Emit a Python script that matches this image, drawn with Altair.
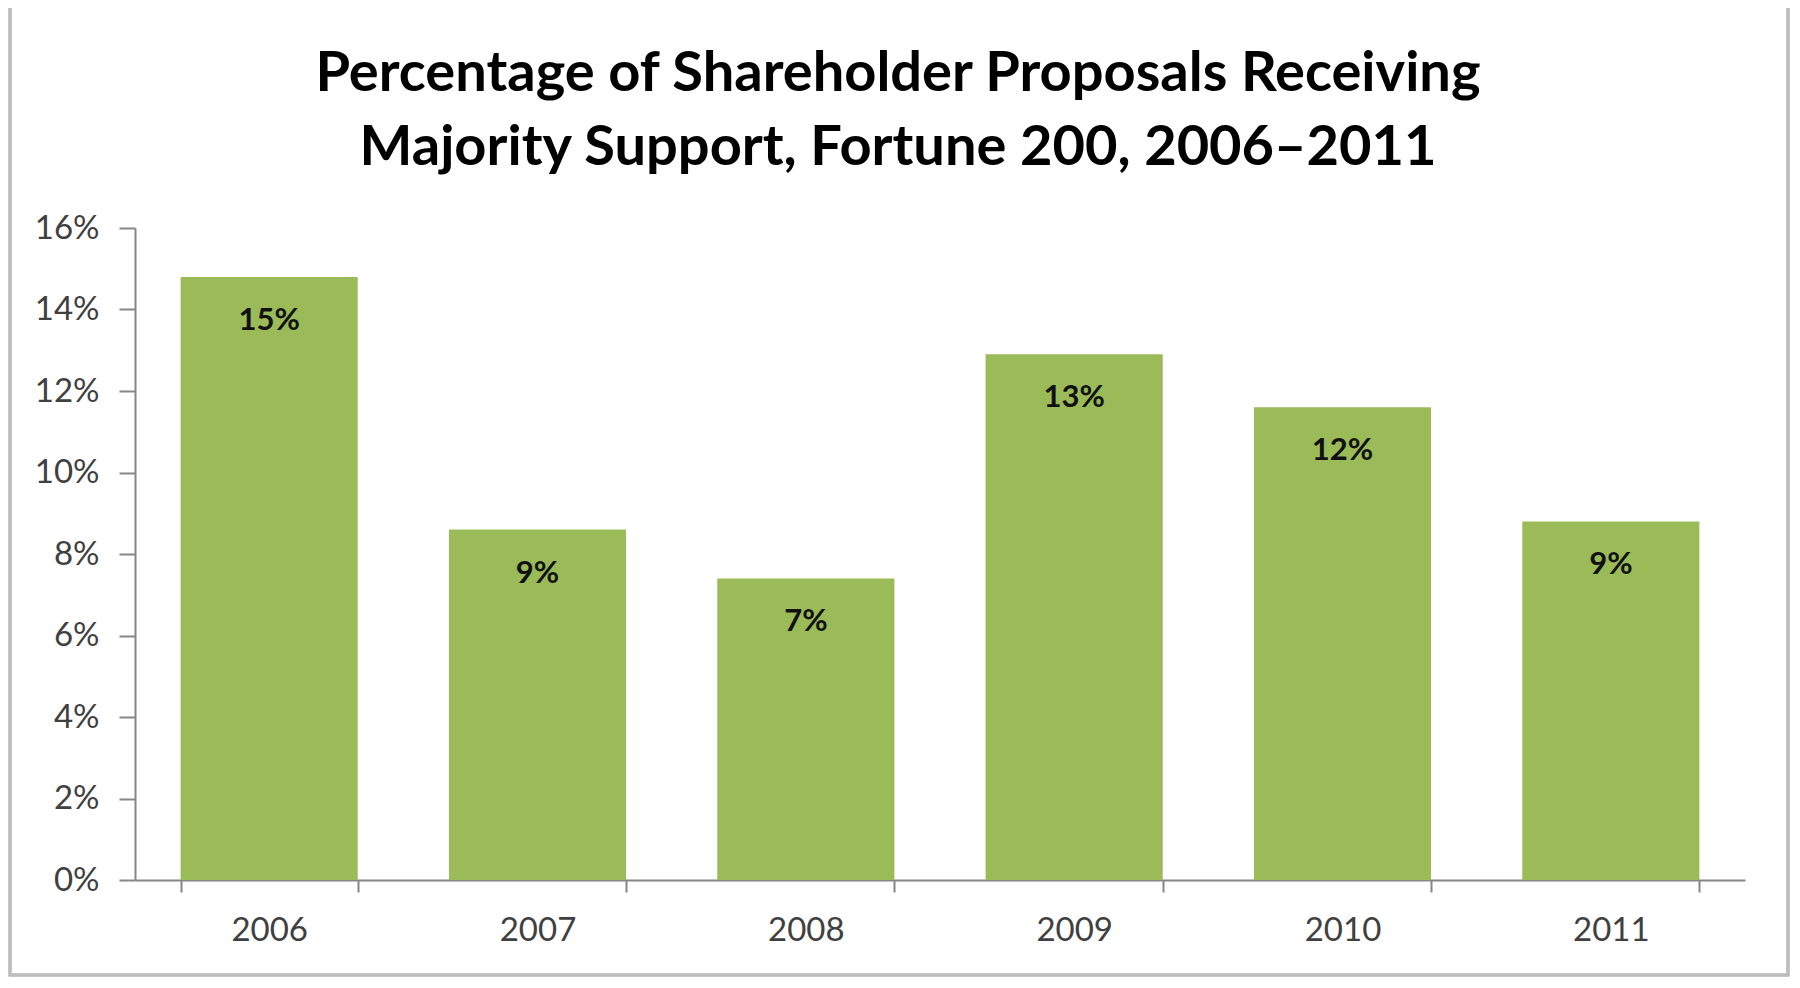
import altair as alt
import pandas as pd

years = ["2006", "2007", "2008", "2009", "2010", "2011"]
share = [0.148, 0.086, 0.074, 0.129, 0.116, 0.088]

df = pd.DataFrame({"year": years, "share": share})

PLOT_W = 1610
PLOT_H = 652
FONT = "Lato"

x_enc = alt.X(
    "year:N",
    title=None,
    sort=years,
    scale=alt.Scale(paddingInner=0.34, paddingOuter=0.17),
    axis=alt.Axis(
        labelAngle=0,
        tickBand="extent",
        tickSize=12,
        labelPadding=22,
    ),
)
y_enc = alt.Y(
    "share:Q",
    title=None,
    scale=alt.Scale(domain=[0, 0.16], nice=False),
    axis=alt.Axis(
        format=".0%",
        values=[0, 0.02, 0.04, 0.06, 0.08, 0.10, 0.12, 0.14, 0.16],
        tickSize=16,
        labelPadding=20,
        grid=False,
    ),
)

bars = alt.Chart(df).mark_bar(color="#9BBB59").encode(x=x_enc, y=y_enc)

labels = (
    alt.Chart(df)
    .mark_text(font=FONT, fontSize=31, fontWeight="bold", color="#111111", baseline="middle", dy=44)
    .encode(x=x_enc, y=y_enc, text=alt.Text("share:Q", format=".0%"))
)

# thin grey frame round the whole chart, like the Excel chart area
frame = alt.Chart(df).mark_rect(fill=None, stroke="#BDBDBD", strokeWidth=2.5, clip=False).encode(
    x=alt.value(-125), x2=alt.value(1653), y=alt.value(-225), y2=alt.value(747)
)

chart = (
    alt.layer(frame, bars, labels)
    .properties(
        width=PLOT_W,
        height=PLOT_H,
        background="white",
        padding={"left": 127, "top": 220, "right": 45, "bottom": 100},
        autosize=alt.AutoSizeParams(type="none"),
        title=alt.TitleParams(
            ["Percentage of Shareholder Proposals Receiving", "Majority Support, Fortune 200, 2006\u20132011"],
            font=FONT,
            fontSize=56,
            fontWeight="bold",
            color="#000000",
            anchor="middle",
            frame="group",
            dx=-42,
            offset=-175,
            lineHeight=74,
        ),
    )
    .configure_view(stroke=None)
    .configure_axis(
        labelFont=FONT,
        labelFontSize=33,
        labelColor="#404040",
        domainColor="#868686",
        domainWidth=2,
        tickColor="#868686",
        tickWidth=2,
    )
)

chart.save("out.html", embed_options={"renderer": "svg", "actions": False})
